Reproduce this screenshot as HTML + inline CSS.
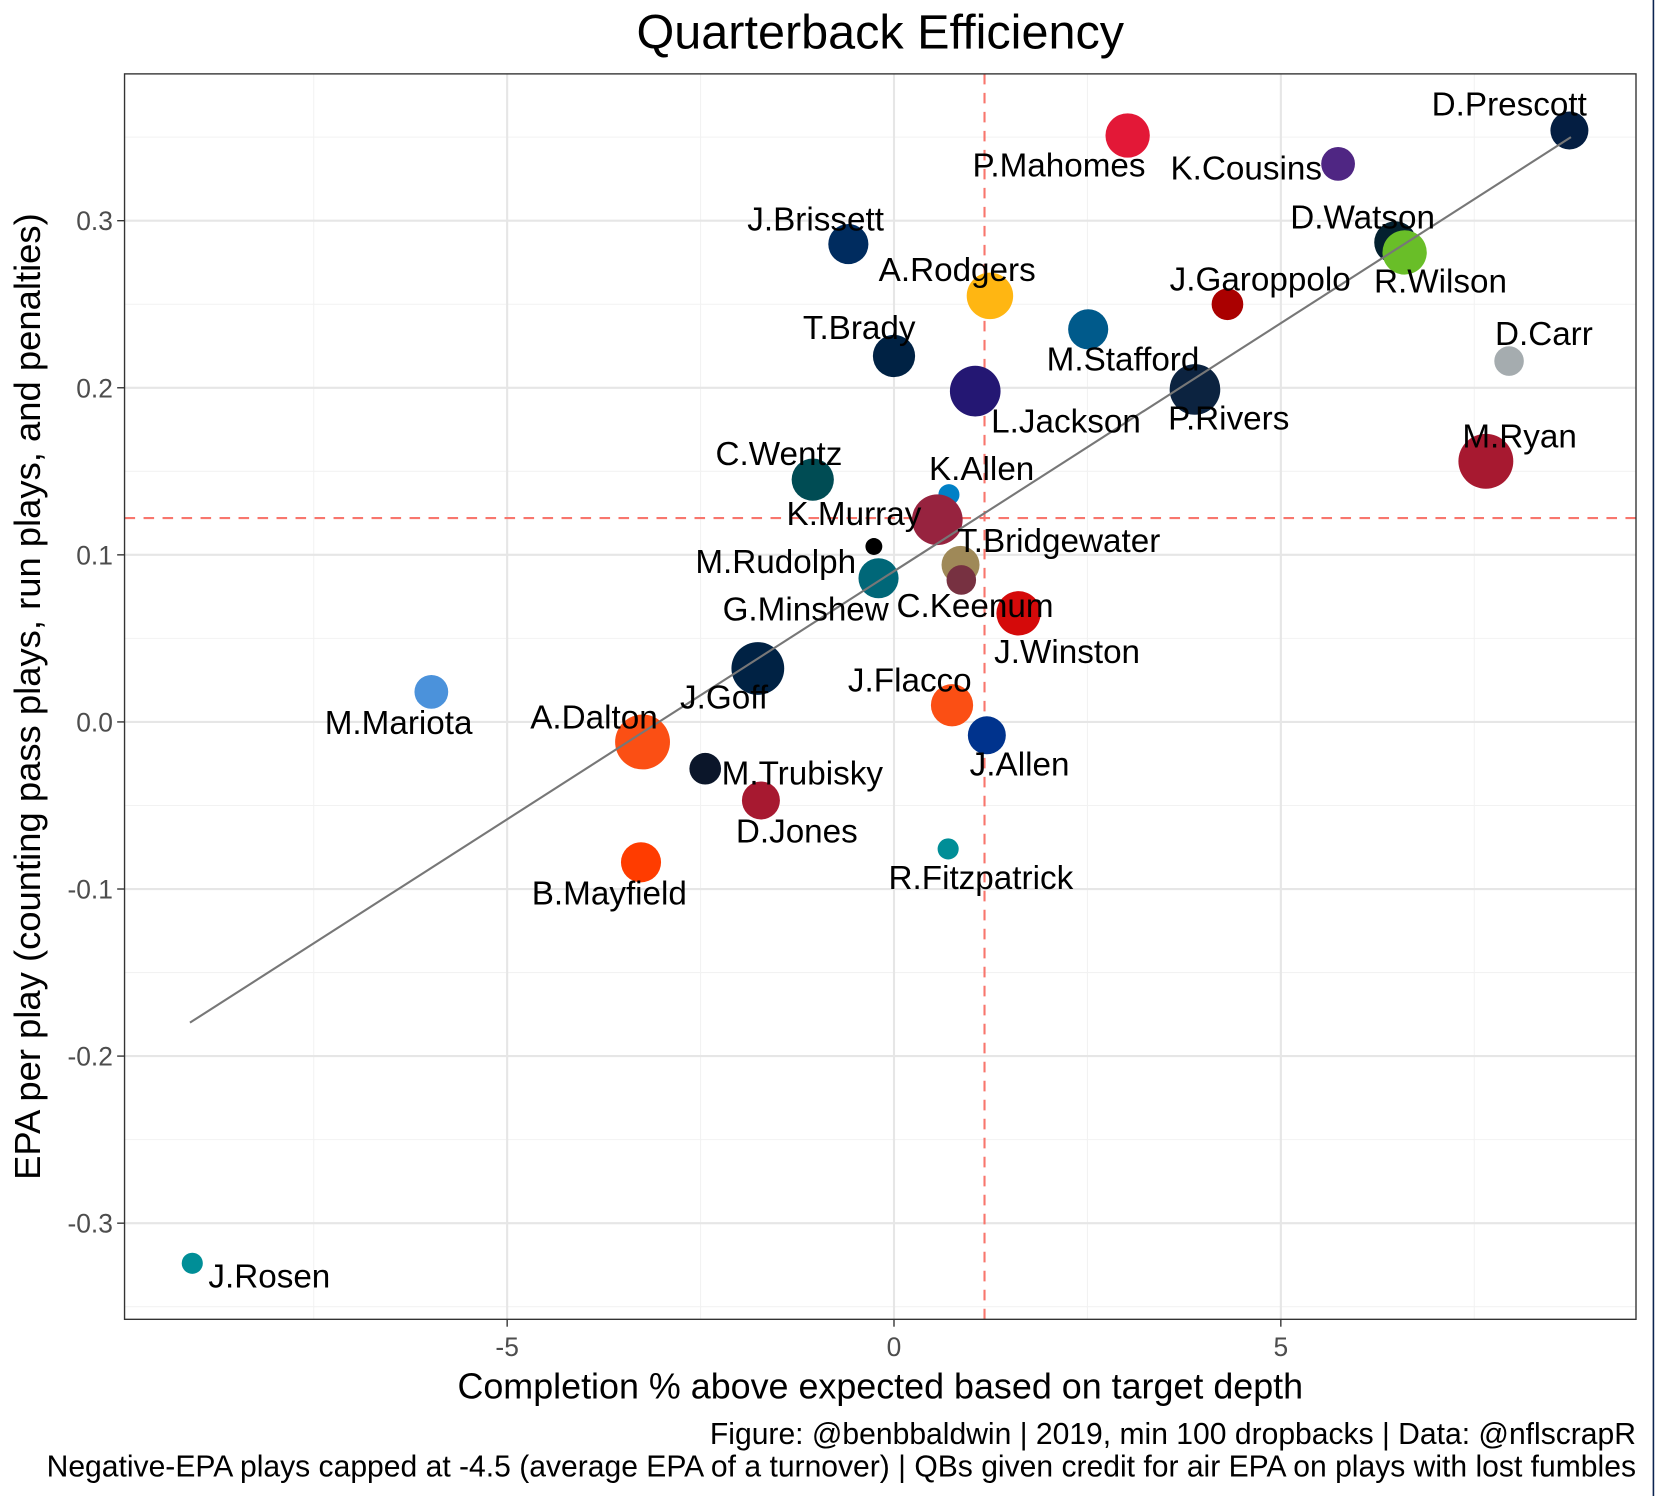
<!DOCTYPE html>
<html><head><meta charset="utf-8"><style>
html,body{margin:0;padding:0;background:#fff;}
svg{display:block;font-family:"Liberation Sans",Arial,sans-serif;}
</style></head><body>
<svg id="chart" width="1655" height="1496" viewBox="0 0 1568 1417.4" preserveAspectRatio="none" xmlns="http://www.w3.org/2000/svg">
<rect x="0" y="0" width="1568" height="1417.4" fill="#fff"/>
<line x1="1566.5" y1="0" x2="1566.5" y2="1417.4" stroke="#0b2350" stroke-width="1.5"/>
<g id="grid"></g>
<g id="refs"></g>
<g id="points"></g>
<g id="fit"></g>
<g id="labels"></g>
<rect x="118" y="70" width="1432" height="1180" fill="none" stroke="#333" stroke-width="1.3"/>
<g id="axes"></g>
<text x="834" y="46" text-anchor="middle" font-size="46" fill="#000">Quarterback Efficiency</text>
<text x="834" y="1325" text-anchor="middle" font-size="34" fill="#000">Completion % above expected based on target depth</text>
<text transform="translate(38,660) rotate(-90)" text-anchor="middle" font-size="34.5" fill="#000">EPA per play (counting pass plays, run plays, and penalties)</text>
<text x="1550" y="1368" text-anchor="end" font-size="28.5" fill="#000">Figure: @benbbaldwin | 2019, min 100 dropbacks | Data: @nflscrapR</text>
<text x="1550" y="1399" text-anchor="end" font-size="28.5" fill="#000">Negative-EPA plays capped at -4.5 (average EPA of a turnover) | QBs given credit for air EPA on plays with lost fumbles</text>
</svg>
<script>
const names = ["D.Prescott","P.Mahomes","K.Cousins","D.Watson","R.Wilson","J.Brissett","A.Rodgers","J.Garoppolo","M.Stafford","D.Carr","T.Brady","L.Jackson","P.Rivers","M.Ryan","C.Wentz","K.Allen","K.Murray","M.Rudolph","T.Bridgewater","C.Keenum","G.Minshew","J.Winston","J.Goff","M.Mariota","J.Flacco","J.Allen","A.Dalton","M.Trubisky","D.Jones","B.Mayfield","R.Fitzpatrick","J.Rosen"];
const cpoe = [8.73,3.02,5.74,6.48,6.6,-0.59,1.24,4.31,2.51,7.95,0,1.05,3.89,7.65,-1.05,0.71,0.56,-0.26,0.86,0.87,-0.2,1.61,-1.76,-5.98,0.75,1.2,-3.25,-2.44,-1.72,-3.27,0.70,-9.07];
const epa = [0.354,0.351,0.334,0.287,0.281,0.286,0.255,0.250,0.235,0.216,0.219,0.198,0.199,0.156,0.145,0.136,0.121,0.105,0.094,0.085,0.086,0.065,0.032,0.018,0.010,-0.008,-0.012,-0.028,-0.047,-0.084,-0.076,-0.324];
const plays = [18,21,16,20,21,19,22,15,19,14,20,24,24,26,20,10,24,8,18,14,19,21,25,16,20,18,26,15,18,19,10,10];
const colors = ["#041E42","#E31837","#4F2683","#03202F","#69BE28","#002C5F","#FFB612","#AA0000","#005A8B","#A5ACAF","#002244","#241773","#0C2340","#A71930","#004C54","#0080C6","#97233F","#000000","#9F8958","#773141","#006778","#D50A0A","#002244","#4B92DB","#FB4F14","#00338D","#FB4F14","#0B162A","#A71930","#FF3C00","#008E97","#008E97"];
const xTicks = [-5,0,5];
const yTicks = [-0.3,-0.2,-0.1,0.0,0.1,0.2,0.3];
const xMinor = [-7.5,-2.5,2.5,7.5];
const yMinor = [-0.35,-0.25,-0.15,-0.05,0.05,0.15,0.25,0.35];
const meanX = [1.17];
const meanY = [0.122];
const fitX = [-9.1,8.75];
const fitY = [-0.18,0.35];
// label offsets (layout, px)
const ldx = [-57,-65,-87,-31,34,-31,-31,31,33,33,-33,86,32,32,-32,31,-79,-93,93,13,-69,46,-32,-31,-40,31,-46,92,34,-30,31,73];
const ldy = [-25,28,4,-24,27,-24,-25,-24,28,-26,-27,28,27,-24,-25,-25,-6,14,-23,24,29,36,27,29,-24,27,-24,4,29,29,27,12];

const X = v => 847 + v*73.3;
const Y = v => 684 - v*1583;
const NS = "http://www.w3.org/2000/svg";
function mk(tag, attrs, parent){const e=document.createElementNS(NS,tag);for(const k in attrs)e.setAttribute(k,attrs[k]);parent.appendChild(e);return e;}
const grid=document.getElementById('grid'), refs=document.getElementById('refs'), pts=document.getElementById('points'), fit=document.getElementById('fit'), labs=document.getElementById('labels'), axes=document.getElementById('axes');
xMinor.forEach(v=>{const l=mk('line',{x1:X(v),x2:X(v),y1:70,y2:1250,stroke:'#f2f2f2','stroke-width':1},grid);

});
yMinor.forEach(v=>{const l=mk('line',{x1:118,x2:1550,y1:Y(v),y2:Y(v),stroke:'#f2f2f2','stroke-width':1},grid);

});
xTicks.forEach(v=>{const l=mk('line',{x1:X(v),x2:X(v),y1:70,y2:1250,stroke:'#e6e6e6','stroke-width':2},grid);


const t=mk('line',{x1:X(v),x2:X(v),y1:1250,y2:1257,stroke:'#333','stroke-width':1.3},axes);


const tx=mk('text',{x:X(v),y:1285,'text-anchor':'middle','font-size':25,fill:'#4d4d4d'},axes);tx.textContent=String(v);

});
yTicks.forEach(v=>{const l=mk('line',{x1:118,x2:1550,y1:Y(v),y2:Y(v),stroke:'#e6e6e6','stroke-width':2},grid);


const t=mk('line',{x1:111,x2:118,y1:Y(v),y2:Y(v),stroke:'#333','stroke-width':1.3},axes);


const tx=mk('text',{x:107,y:Y(v)+9,'text-anchor':'end','font-size':25,fill:'#4d4d4d'},axes);tx.textContent=v.toFixed(1);

});
meanX.forEach(v=>{const l=mk('line',{x1:X(v),x2:X(v),y1:70,y2:1250,stroke:'#f8766d','stroke-width':2,'stroke-dasharray':'10,8'},refs);

});
meanY.forEach(v=>{const l=mk('line',{x1:118,x2:1550,y1:Y(v),y2:Y(v),stroke:'#f8766d','stroke-width':2,'stroke-dasharray':'10,8'},refs);

});
names.forEach((n,i)=>{const c=mk('circle',{cx:X(cpoe[i]),cy:Y(epa[i]),r:plays[i],fill:colors[i]},pts);


const t=mk('text',{x:X(cpoe[i])+ldx[i],y:Y(epa[i])+ldy[i]+11,'text-anchor':'middle','font-size':31.5,fill:'#000'},labs);t.textContent=n;

});
const fl=mk('line',{x1:X(fitX[0]),y1:Y(fitY[0]),x2:X(fitX[1]),y2:Y(fitY[1]),stroke:'#777','stroke-width':2},fit);


</script>
</body></html>
